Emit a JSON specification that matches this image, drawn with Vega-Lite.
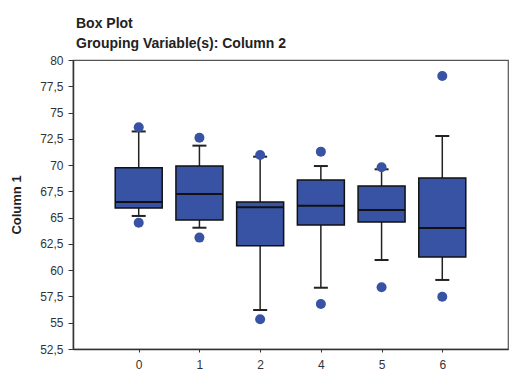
{
  "$schema": "https://vega.github.io/schema/vega-lite/v6.json",
  "autosize": {"type": "none"},
  "padding": {"left": 73, "top": 60, "right": 1, "bottom": 23},
  "width": 435,
  "height": 289,
  "background": "white",
  "config": {
    "font": "Liberation Sans",
    "locale": {"number": {"decimal": ",", "thousands": ".", "grouping": [3], "currency": ["", " €"]}},
    "view": {"stroke": "#555", "strokeWidth": 1.2},
    "axis": {"grid": false, "domainColor": "#333", "domainWidth": 1.5, "tickColor": "#333", "labelColor": "#333", "labelFont": "Liberation Sans", "labelFontSize": 12, "titleFont": "Liberation Sans", "titleColor": "#222", "labelOverlap": false}
  },
  "title": {
    "text": ["Box Plot", "Grouping Variable(s): Column 2"],
    "anchor": "start",
    "frame": "group",
    "dx": 3,
    "offset": 3,
    "fontSize": 14,
    "fontWeight": "bold",
    "lineHeight": 20,
    "color": "#222",
    "font": "Liberation Sans"
  },
  "datasets": {
    "boxes": [
      {"g": "0", "pos": 1, "lo": 65.16, "q1": 65.92, "med": 66.49, "q3": 69.75, "hi": 73.2},
      {"g": "1", "pos": 2, "lo": 64.04, "q1": 64.78, "med": 67.25, "q3": 69.91, "hi": 71.85},
      {"g": "2", "pos": 3, "lo": 56.21, "q1": 62.33, "med": 65.98, "q3": 66.49, "hi": 70.8},
      {"g": "4", "pos": 4, "lo": 58.33, "q1": 64.3, "med": 66.14, "q3": 68.58, "hi": 69.91},
      {"g": "5", "pos": 5, "lo": 60.97, "q1": 64.59, "med": 65.73, "q3": 68.01, "hi": 69.6},
      {"g": "6", "pos": 6, "lo": 59.07, "q1": 61.26, "med": 64.02, "q3": 68.77, "hi": 72.77}
    ],
    "outliers": [
      {"g": "0", "pos": 1, "value": 73.6},
      {"g": "0", "pos": 1, "value": 64.52},
      {"g": "1", "pos": 2, "value": 72.6},
      {"g": "1", "pos": 2, "value": 63.1},
      {"g": "2", "pos": 3, "value": 70.96},
      {"g": "2", "pos": 3, "value": 55.33},
      {"g": "4", "pos": 4, "value": 71.28},
      {"g": "4", "pos": 4, "value": 56.78},
      {"g": "5", "pos": 5, "value": 69.79},
      {"g": "5", "pos": 5, "value": 58.37},
      {"g": "6", "pos": 6, "value": 78.48},
      {"g": "6", "pos": 6, "value": 57.48}
    ]
  },
  "encoding": {
    "x": {
      "field": "pos", "type": "quantitative",
      "scale": {"domain": [0, 7], "nice": false, "zero": false},
      "axis": {"title": null, "values": [1, 2, 3, 4, 5, 6], "tickCount": 7, "labelExpr": "['', '0', '1', '2', '4', '5', '6'][datum.value]", "tickSize": 3, "labelPadding": 7}
    }
  },
  "layer": [
    {
      "data": {"name": "boxes"},
      "mark": {"type": "rule", "color": "#222", "strokeWidth": 1.5},
      "encoding": {
        "y": {"field": "lo", "type": "quantitative", "scale": {"domain": [52.5, 80], "nice": false, "zero": false},
          "axis": {"title": "Column 1", "titleFontSize": 13, "titleFontWeight": "bold", "titlePadding": 16, "values": [52.5, 55, 57.5, 60, 62.5, 65, 67.5, 70, 72.5, 75, 77.5, 80], "tickCount": 12, "format": ".1~f", "labelOverlap": false, "labelBound": false, "labelFlush": false, "tickSize": 5, "labelPadding": 5}},
        "y2": {"field": "hi"}
      }
    },
    {
      "data": {"name": "boxes"},
      "mark": {"type": "bar", "size": 47, "fill": "#3853a4", "stroke": "#111", "strokeWidth": 1.5},
      "encoding": {
        "y": {"field": "q1", "type": "quantitative"},
        "y2": {"field": "q3"}
      }
    },
    {
      "data": {"name": "boxes"},
      "mark": {"type": "tick", "orient": "horizontal", "size": 47, "thickness": 2, "color": "#111", "opacity": 1},
      "encoding": {
        "y": {"field": "med", "type": "quantitative"}
      }
    },
    {
      "data": {"name": "boxes"},
      "mark": {"type": "tick", "orient": "horizontal", "size": 14, "thickness": 2, "color": "#222", "opacity": 1},
      "encoding": {
        "y": {"field": "lo", "type": "quantitative"}
      }
    },
    {
      "data": {"name": "boxes"},
      "mark": {"type": "tick", "orient": "horizontal", "size": 14, "thickness": 2, "color": "#222", "opacity": 1},
      "encoding": {
        "y": {"field": "hi", "type": "quantitative"}
      }
    },
    {
      "data": {"name": "outliers"},
      "mark": {"type": "point", "shape": "circle", "filled": true, "size": 100, "color": "#3853a4", "opacity": 1},
      "encoding": {
        "y": {"field": "value", "type": "quantitative"}
      }
    }
  ]
}
